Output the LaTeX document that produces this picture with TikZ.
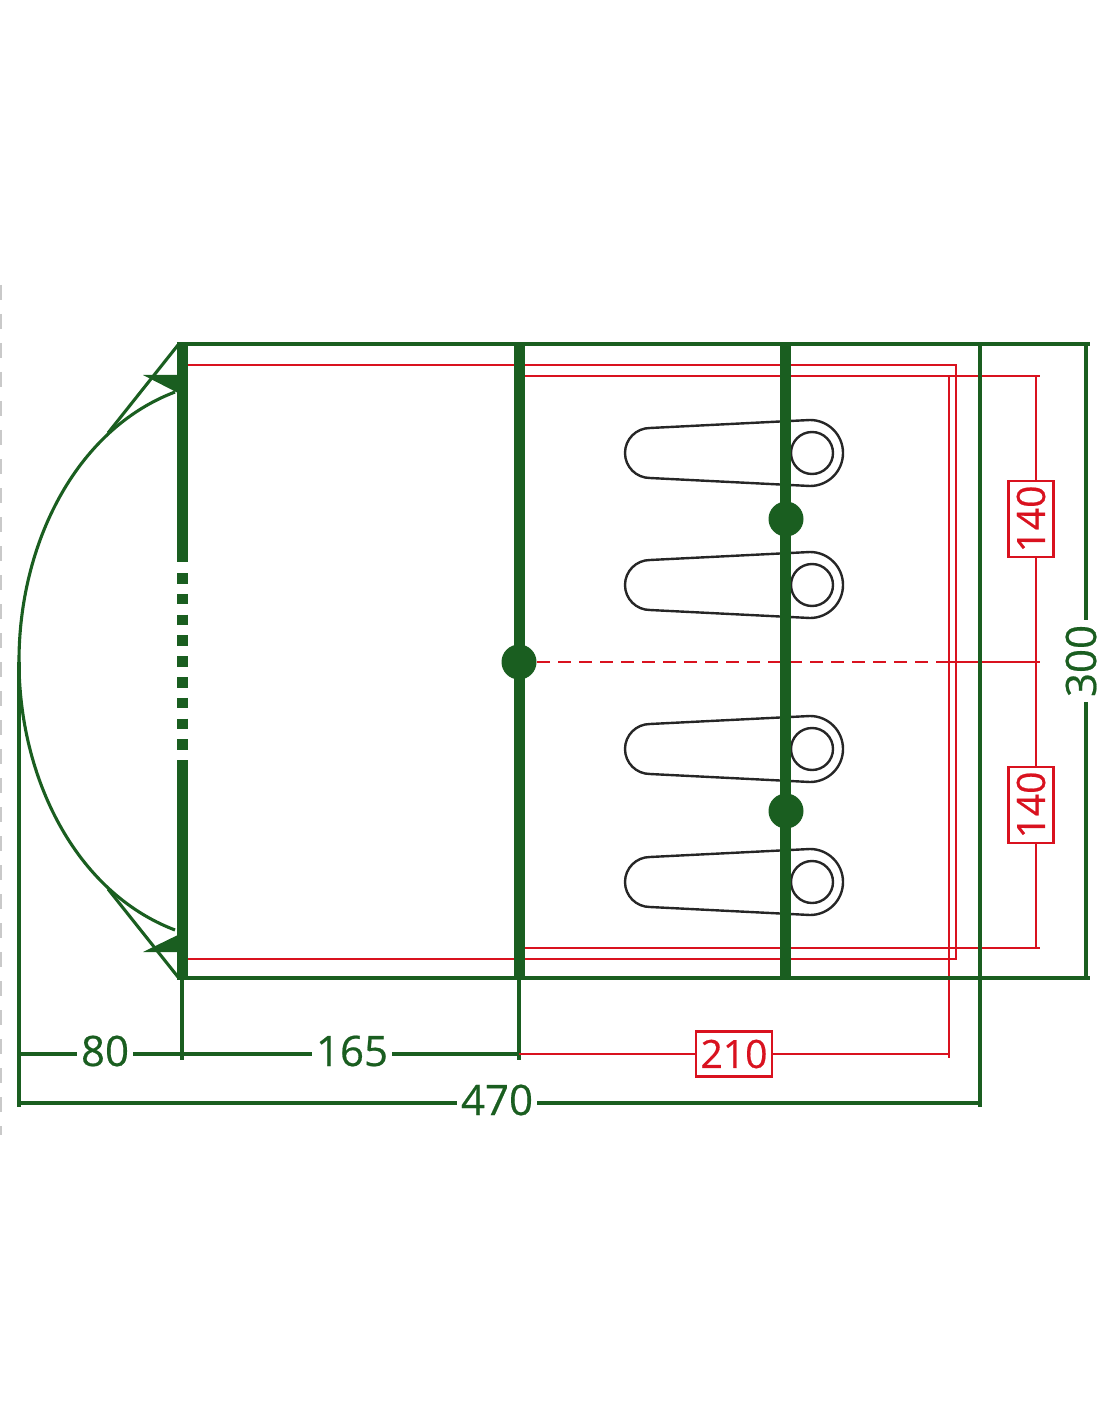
\documentclass[tikz,border=0pt]{standalone}
\usepackage{fontspec}
\setmainfont[RawFeature={embolden=0.5}]{Open Sans}
\definecolor{tentgreen}{HTML}{1A5E20}
\definecolor{tentred}{HTML}{D9121F}
\definecolor{edgegrey}{HTML}{C9C9C9}
\begin{document}
\begin{tikzpicture}[
    x=0.5pt, y=-0.5pt,
    green line/.style={color=tentgreen, line width=1.55pt},
    red line/.style={color=tentred, line width=1.45pt},
    pole/.style={color=tentgreen, line width=5.5pt},
    bag/.style={color=black!85, line width=1.2pt},
    peg/.style={circle, fill=tentgreen, inner sep=0pt, minimum size=17.5pt},
    size green/.style={text=tentgreen, font=\fontsize{21}{24}\selectfont, inner sep=2pt, fill=white},
    size red/.style={text=tentred, draw=tentred, line width=1.4pt, font=\fontsize{19.5}{22}\selectfont, fill=white, inner sep=0pt, minimum width=38pt, minimum height=22.5pt},
    ]
    \useasboundingbox (0,0) rectangle (1100,1422);
    \draw [color=edgegrey, line width=2pt, dash pattern=on 7.5pt off 7pt] (0,285) -- (0,1135);

    % corner points
    \coordinate (topleft) at (177,344);
    \coordinate (topright) at (1090,344);
    \coordinate (botleft) at (177,978);
    \coordinate (botright) at (1090,978);

    % sleeping bags go under the poles
    \foreach \y in {453,585,749,882}{
        \draw [bag] (650,\y-25) -- (810,\y-33) arc[start angle=-90, end angle=90, radius=33] -- (650,\y+25) arc[start angle=90, end angle=270, radius=25] -- cycle;
        \draw [bag] (812,\y) circle[radius=21];
    }

    % inner tent
    \draw [red line] (185,365) -- (956,365) -- (956,959) -- (185,959);
    \draw [red line] (520,376) -- (1040,376);
    \draw [red line] (520,948) -- (1040,948);
    \draw [red line] (949,376) -- (949,1058);
    \draw [red line] (1036,376) -- (1036,948);
    \draw [red line, dash pattern=on 6.5pt off 4pt] (537,662) -- (940,662);
    \draw [red line] (940,662) -- (1040,662);

    % outer tent
    \draw [green line] (topleft) -- (topright);
    \draw [green line] (botleft) -- (botright);
    \draw [green line] (980,344) -- (980,1107);
    \draw [green line] (182,976) -- (182,1060);
    \draw [green line] (519,978) -- (519,1060);
    \draw [green line] (19,662) -- (19,1107);
    \draw [green line] (1086,344) -- (1086,620);
    \draw [green line] (1086,702) -- (1086,978);

    % porch
    \draw [green line] (175,392) .. controls (75,430) and (19,545) .. (19,661) .. controls (19,777) and (75,892) .. (175,930);
    \draw [green line] (178,345) -- (108,433);
    \draw [green line] (178,977) -- (108,889);
    \fill [tentgreen] (143,375) -- (182,375) -- (182,395) -- cycle;
    \fill [tentgreen] (143,952) -- (182,952) -- (182,933) -- cycle;

    % poles
    \draw [pole] (182.5,344) -- (182.5,562);
    \draw [pole] (182.5,760) -- (182.5,976);
    \foreach \x[
        count=\n,
        evaluate=\n as \u using {573+20.8*(\n-1)},
        evaluate=\n as \v using {\u+10.5},
    ] in {1,...,9}{
            \draw [pole] (182.5,\u) -- (182.5,\v);
        }
    \draw [pole] (519,344) -- (519,978);
    \draw [pole] (785,344) -- (785,978);
    \node [peg] (pegmid) at (519,662) {};
    \node [peg] (pegtop) at (786,519) {};
    \node [peg] (pegbot) at (786,811) {};

    % dimensions
    \coordinate (dimleft) at (19,1054);
    \coordinate (dimmid) at (519,1054);
    \coordinate (dimright) at (949,1054);
    \coordinate (allleft) at (19,1103);
    \coordinate (allright) at (980,1103);
    \node [size green] (size80) at (105,1051) {80};
    \node [size green] (size165) at (352,1051) {165};
    \node [size green] (size470) at (497,1100) {470};
    \node [size green, rotate=90] (size300) at (1081,661) {300};
    \draw [green line] (dimleft) -- (dimleft -| size80.west);
    \draw [green line] (dimleft -| size80.east) -- (dimleft -| size165.west);
    \draw [green line] (dimleft -| size165.east) -- (dimmid);
    \draw [green line] (allleft) -- (allleft -| size470.west);
    \draw [green line] (allleft -| size470.east) -- (allright);
    \draw [red line] (dimmid) -- (dimright);
    \node [size red] (size210) at (734,1054) {210};
    \node [size red, rotate=90] (sizetop) at (1031,519) {140};
    \node [size red, rotate=90] (sizebot) at (1031,805) {140};
\end{tikzpicture}
\end{document}
